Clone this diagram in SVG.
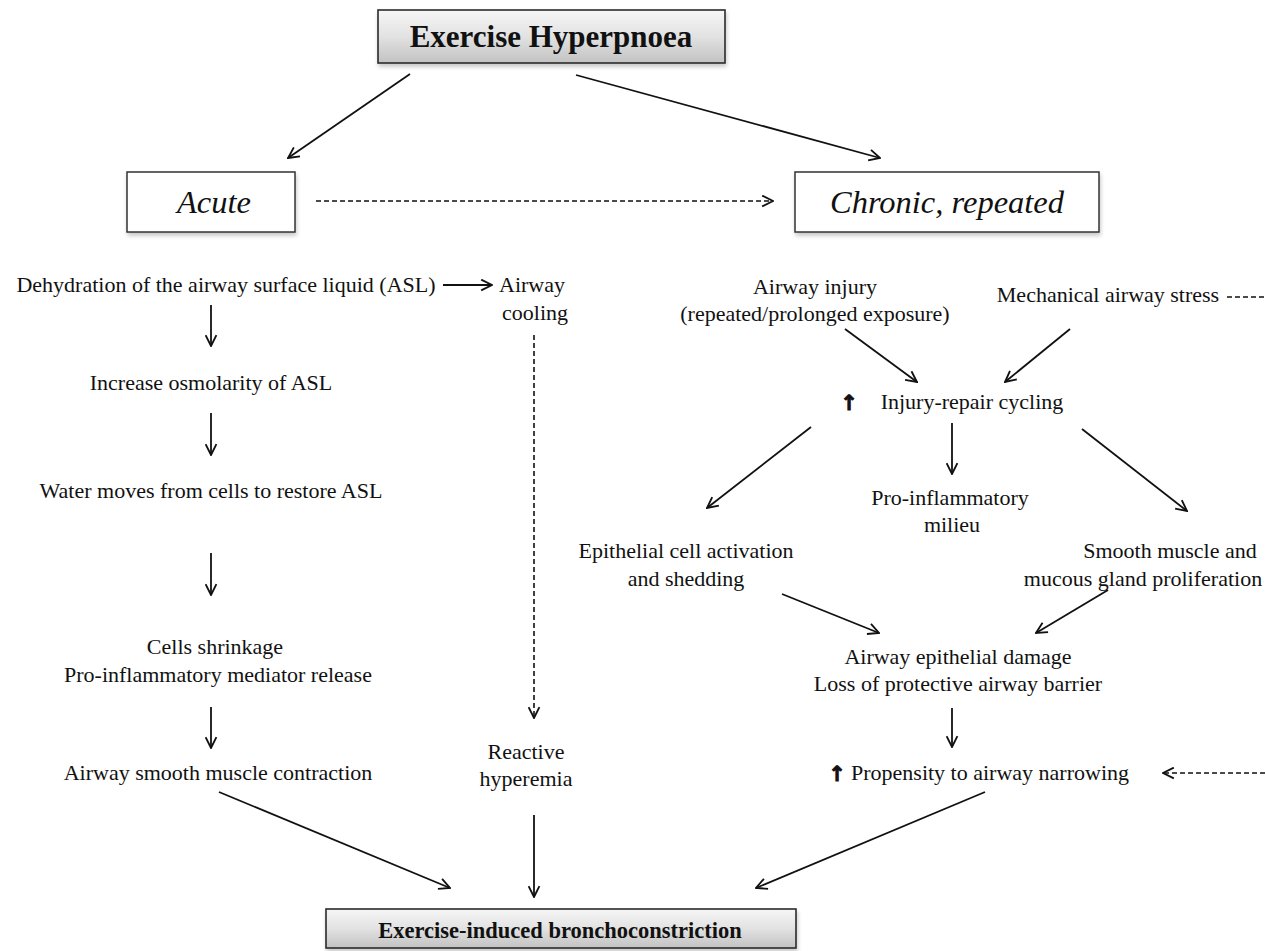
<svg xmlns="http://www.w3.org/2000/svg" width="1265" height="951" viewBox="0 0 1265 951" font-family="'Liberation Serif', 'Times New Roman', serif">
<style>
  text { font-family: "Liberation Serif", "Times New Roman", serif; fill: #111; }
  .t { font-size: 22px; text-anchor: middle; }
  .ti { font-size: 32.5px; font-style: italic; text-anchor: middle; }
  .up { font-family: "DejaVu Sans", sans-serif; font-weight: bold; font-size: 21px; text-anchor: middle; stroke: #111; stroke-width: 0.9; }
  .ln { stroke: #111; stroke-width: 1.8; fill: none; marker-end: url(#ah); }
  .dl { stroke: #111; stroke-width: 1.6; fill: none; stroke-dasharray: 5 3; }
  .box { fill: #fff; stroke: #333; stroke-width: 1.5; filter: url(#sh); }
  .gbox { fill: url(#gg); stroke: #2a2a2a; stroke-width: 1.6; filter: url(#sh); }
</style>
<defs>
  <marker id="ah" viewBox="0 0 12 12" refX="11" refY="6" markerWidth="13" markerHeight="13" markerUnits="userSpaceOnUse" orient="auto">
    <path d="M1,1 L11,6 L1,11" fill="none" stroke="#111" stroke-width="1.7"/>
  </marker>
  <linearGradient id="gg" x1="0" y1="0" x2="0" y2="1">
    <stop offset="0" stop-color="#f6f6f6"/>
    <stop offset="0.5" stop-color="#e2e2e2"/>
    <stop offset="1" stop-color="#c2c2c2"/>
  </linearGradient>
  <filter id="sh" x="-5%" y="-10%" width="112%" height="135%">
    <feGaussianBlur in="SourceAlpha" stdDeviation="2"/>
    <feOffset dx="1" dy="3" result="b"/>
    <feComponentTransfer><feFuncA type="linear" slope="0.22"/></feComponentTransfer>
    <feMerge><feMergeNode/><feMergeNode in="SourceGraphic"/></feMerge>
  </filter>
</defs>
<rect width="1265" height="951" fill="#fff"/>

<g id="connectors">
  <line class="ln" x1="410" y1="74" x2="288" y2="158"/>
  <line class="ln" x1="576" y1="75" x2="880" y2="158"/>
  <line class="ln dl" x1="316" y1="201" x2="773" y2="201"/>
  <line class="ln" x1="443" y1="285" x2="492" y2="285"/>
  <line class="ln" x1="211" y1="305" x2="211" y2="346"/>
  <line class="ln" x1="211" y1="413" x2="211" y2="455"/>
  <line class="ln" x1="211" y1="553" x2="211" y2="595"/>
  <line class="ln" x1="211" y1="707" x2="211" y2="748"/>
  <line class="ln" x1="219" y1="792" x2="450" y2="888"/>
  <line class="ln dl" x1="534" y1="335" x2="534" y2="718"/>
  <line class="ln" x1="534" y1="815" x2="534" y2="897"/>
  <line class="ln" x1="845" y1="329" x2="917" y2="382"/>
  <line class="ln" x1="1070" y1="329" x2="1005" y2="382"/>
  <line class="dl" x1="1227" y1="297" x2="1265" y2="297"/>
  <line class="ln" x1="811" y1="427" x2="707" y2="508"/>
  <line class="ln" x1="952" y1="423" x2="952" y2="474"/>
  <line class="ln" x1="1082" y1="429" x2="1187" y2="511"/>
  <line class="ln" x1="782" y1="594" x2="879" y2="633"/>
  <line class="ln" x1="1108" y1="590" x2="1036" y2="633"/>
  <line class="ln" x1="952" y1="708" x2="952" y2="747"/>
  <line class="ln dl" x1="1265" y1="773" x2="1163" y2="773"/>
  <line class="ln" x1="985" y1="792" x2="756" y2="888"/>
</g>

<g id="n-hyperpnoea">
  <rect class="gbox" x="378" y="10" width="347" height="53"/>
  <text x="551" y="47" font-size="31" font-weight="bold" text-anchor="middle">Exercise Hyperpnoea</text>
</g>
<g id="n-acute">
  <rect class="box" x="127" y="172" width="168" height="60"/>
  <text class="ti" x="214" y="213">Acute</text>
</g>
<g id="n-chronic">
  <rect class="box" x="795" y="172" width="304" height="60"/>
  <text class="ti" x="947" y="213">Chronic, repeated</text>
</g>

<g id="n-dehydration"><text class="t" x="226" y="292">Dehydration of the airway surface liquid (ASL)</text></g>
<g id="n-cooling">
  <text class="t" x="532" y="292">Airway</text>
  <text class="t" x="535" y="320">cooling</text>
</g>
<g id="n-osmolarity"><text class="t" x="211" y="390">Increase osmolarity of ASL</text></g>
<g id="n-water"><text class="t" x="211" y="498">Water moves from cells to restore ASL</text></g>
<g id="n-shrinkage">
  <text class="t" x="215" y="654">Cells shrinkage</text>
  <text class="t" x="218" y="682">Pro-inflammatory mediator release</text>
</g>
<g id="n-contraction"><text class="t" x="218" y="780">Airway smooth muscle contraction</text></g>
<g id="n-hyperemia">
  <text class="t" x="526" y="759">Reactive</text>
  <text class="t" x="526" y="786">hyperemia</text>
</g>

<g id="n-injury">
  <text class="t" x="815" y="294">Airway injury</text>
  <text class="t" x="815" y="321">(repeated/prolonged exposure)</text>
</g>
<g id="n-mechanical"><text class="t" x="1108" y="302">Mechanical airway stress</text></g>
<g id="n-cycling">
  <text class="up" x="849" y="410">↑</text>
  <text class="t" x="972" y="409">Injury-repair cycling</text>
</g>
<g id="n-milieu">
  <text class="t" x="950" y="505">Pro-inflammatory</text>
  <text class="t" x="952" y="532">milieu</text>
</g>
<g id="n-epithelial">
  <text class="t" x="686" y="558">Epithelial cell activation</text>
  <text class="t" x="686" y="586">and shedding</text>
</g>
<g id="n-smooth">
  <text class="t" x="1170" y="558">Smooth muscle and</text>
  <text class="t" x="1143" y="586">mucous gland proliferation</text>
</g>
<g id="n-damage">
  <text class="t" x="958" y="664">Airway epithelial damage</text>
  <text class="t" x="958" y="691">Loss of protective airway barrier</text>
</g>
<g id="n-propensity">
  <text class="up" x="837" y="781">↑</text>
  <text class="t" x="990" y="780">Propensity to airway narrowing</text>
</g>

<g id="n-eib">
  <rect class="gbox" x="326" y="909" width="470" height="39"/>
  <text x="560" y="938" font-size="22.5" font-weight="bold" text-anchor="middle">Exercise-induced bronchoconstriction</text>
</g>
</svg>
